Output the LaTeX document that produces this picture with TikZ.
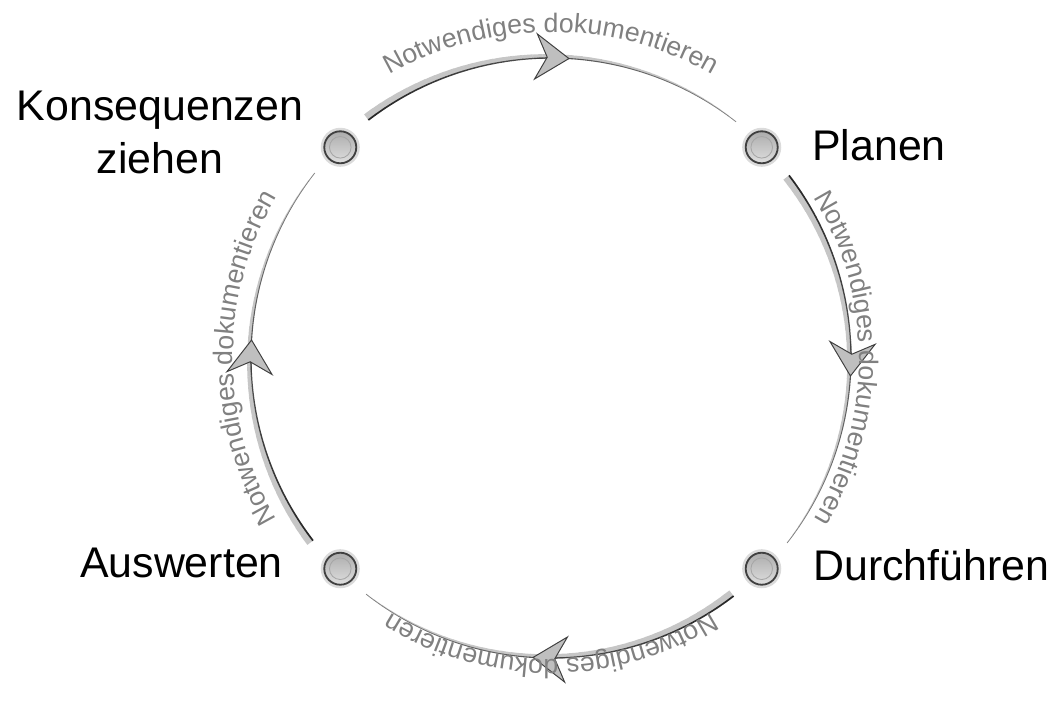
\documentclass[tikz,border=0pt]{standalone}
\usepackage{fontspec}
\setmainfont{Liberation Sans}
\usetikzlibrary{arrows.meta,decorations.text}

\begin{document}
\begin{tikzpicture}[
    glow/.style={gray!45, line cap=butt},
    rim/.style={line cap=butt},
    knob/.style={circle, minimum size=0.8cm, inner sep=0pt,
      preaction={draw=gray!28, line width=5pt},
      draw=gray!50!black, line width=1.3pt,
      top color=gray!65, bottom color=gray!25,
      path picture={\draw[gray!70, line width=0.6pt] (path picture bounding box.center) circle (0.27cm);}},
    arrowhead/.style={draw=gray!50!black, line width=0.7pt,
      -{Stealth[length=0.88cm, width=1.2cm, inset=0.3cm, fill=gray!50]}},
    stage/.style={font=\fontsize{30.5}{37.7}\selectfont, inner sep=0pt},
    remark/.style={decorate, decoration={text along path, text align=center,
      text={|\color{gray}\fontsize{19}{19}\selectfont|Notwendiges dokumentieren}}}
  ]
  \useasboundingbox (-13.775,-8.675) rectangle (12.675,8.95);
  % Draw the tapering arcs between the stages.
  \foreach \k/\sg in {135/0.5,45/-0.5,-45/-0.5,-135/0.5}{
    \foreach \i in {0,...,39}{
      \pgfmathsetmacro\a{\k-7.5-1.8875*\i}
      \pgfmathsetmacro\w{5-4.6*\i/39}
      \draw[glow, line width=\w pt] (\a:{7.5cm+(\sg)*\w*1pt})
        arc[start angle=\a, delta angle=-1.95, radius={7.5cm+(\sg)*\w*1pt}];
    }
    \foreach \i in {0,...,39}{
      \pgfmathsetmacro\a{\k-7.5-1.8875*\i}
      \pgfmathsetmacro\w{1.2-0.75*\i/39}
      \pgfmathsetmacro\tone{85-35*\i/39}
      \draw[rim, black!\tone, line width=\w pt] (\a:7.5)
        arc[start angle=\a, delta angle=-1.95, radius=7.5];
    }
    % Draw the arrow heads.
    \draw[arrowhead] ({\k-41.8}:7.5) arc[start angle=\k-41.8, delta angle=-6.8, radius=7.5];
  }
  % Draw the texts along the arcs.
  \foreach \k/\rr in {135/8.15,45/7.7,-45/7.525,-135/7.95}
    \path[remark] (\k:\rr) arc[start angle=\k, delta angle=-90, radius=\rr];
  % Draw the stages.
  \node[knob] (plan) at (45:7.45) {};
  \node[knob] (durch) at (-45:7.45) {};
  \node[knob] (ausw) at (-135:7.45) {};
  \node[knob] (kons) at (135:7.45) {};
  \node[stage, anchor=base west] (planen) at (6.525,4.95) {Planen};
  \node[stage, anchor=base west] (durchfuehren) at (6.55,-5.55) {Durchführen};
  \node[stage, anchor=base east] (auswerten) at (-6.7,-5.475) {Auswerten};
  \node[stage, align=center, anchor=base] (konsequenzen) at (-9.775,4.625) {Konsequenzen\\ziehen};
\end{tikzpicture}
\end{document}
